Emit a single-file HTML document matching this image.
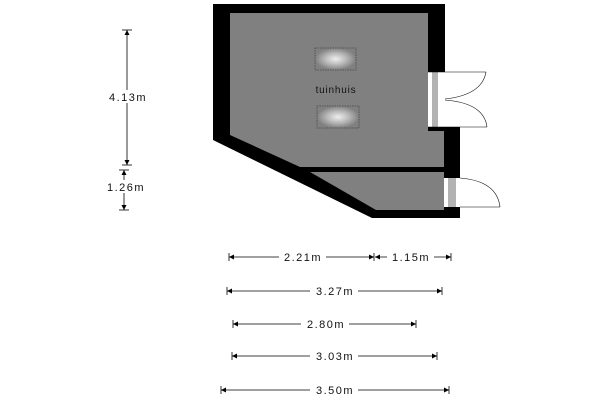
<!DOCTYPE html>
<html><head><style>html,body{margin:0;padding:0;background:#fff}svg{display:block}</style></head><body>
<svg width="600" height="400" viewBox="0 0 600 400" xmlns="http://www.w3.org/2000/svg" font-family="Liberation Sans, sans-serif">
<defs>
<radialGradient id="g"><stop offset="0" stop-color="#eee"/><stop offset="0.5" stop-color="#bbb"/><stop offset="1" stop-color="#808080"/></radialGradient>
<marker id="a" viewBox="0 0 10 10" refX="10" refY="5" markerWidth="8" markerHeight="5" orient="auto-start-reverse" markerUnits="userSpaceOnUse"><path d="M0,0L10,5L0,10z" fill="#000"/></marker>
</defs>
<polygon points="213,4 445,4 445,127 460,127 460,218 372,218 213,140" fill="#000"/>
<polygon points="230,13 428,13 428,131 444,131 444,167 300,167 230,135" fill="#808080"/>
<polygon points="310,172 444,172 444,210 376,210" fill="#808080"/>
<rect x="428" y="72" width="17" height="55" fill="#fff"/>
<g stroke="#000" stroke-width="0.6" fill="none">
<line x1="433" y1="72" x2="433" y2="127"/><line x1="435" y1="72" x2="435" y2="127"/><line x1="437" y1="72" x2="437" y2="127"/>
<line x1="428" y1="72" x2="445" y2="72"/><line x1="428" y1="127" x2="445" y2="127"/>
<line x1="445" y1="72" x2="486" y2="72"/><path d="M486,72 Q482,95 445,99"/>
<line x1="445" y1="127" x2="487" y2="127"/><path d="M487,127 Q484,103 445,100"/>
</g>
<rect x="444" y="178" width="16" height="29" fill="#fff"/>
<g stroke="#000" stroke-width="0.6" fill="none">
<line x1="449" y1="178" x2="449" y2="207"/><line x1="451" y1="178" x2="451" y2="207"/><line x1="453" y1="178" x2="453" y2="207"/><line x1="455" y1="178" x2="455" y2="207"/>
<line x1="460" y1="207" x2="500" y2="207"/><path d="M500,207 Q497,181 460,178"/>
</g>
<rect x="315" y="48" width="41" height="22" fill="url(#g)" stroke="#444" stroke-width="0.7" stroke-dasharray="1.5,1"/>
<rect x="317" y="106" width="42" height="22" fill="url(#g)" stroke="#444" stroke-width="0.7" stroke-dasharray="1.5,1"/>
<text x="336" y="93" font-size="10" text-anchor="middle" fill="#111" letter-spacing="0.8">tuinhuis</text>
<g stroke="#000" stroke-width="0.8" marker-start="url(#a)" marker-end="url(#a)">
<line x1="127" y1="30" x2="127" y2="165"/>
<line x1="124" y1="170" x2="124" y2="210"/>
<line x1="229" y1="257" x2="374" y2="257"/>
<line x1="375" y1="257" x2="451" y2="257"/>
<line x1="227" y1="291" x2="442" y2="291"/>
<line x1="233" y1="324" x2="416" y2="324"/>
<line x1="232" y1="356" x2="437" y2="356"/>
<line x1="221" y1="390" x2="449" y2="390"/>
</g>
<g stroke="#000" stroke-width="0.8">
<line x1="122" y1="30" x2="132" y2="30"/><line x1="122" y1="165" x2="132" y2="165"/>
<line x1="119" y1="170" x2="129" y2="170"/><line x1="119" y1="210" x2="129" y2="210"/>
<line x1="229" y1="253" x2="229" y2="261"/><line x1="374" y1="253" x2="374" y2="261"/><line x1="451" y1="253" x2="451" y2="261"/>
<line x1="227" y1="287" x2="227" y2="295"/><line x1="442" y1="287" x2="442" y2="295"/>
<line x1="233" y1="320" x2="233" y2="328"/><line x1="416" y1="320" x2="416" y2="328"/>
<line x1="232" y1="352" x2="232" y2="360"/><line x1="437" y1="352" x2="437" y2="360"/>
<line x1="221" y1="386" x2="221" y2="394"/><line x1="449" y1="386" x2="449" y2="394"/>
</g>
<g fill="#fff">
<rect x="104" y="90" width="46" height="13"/><rect x="102" y="180" width="46" height="13"/>
<rect x="279" y="250" width="47" height="13"/><rect x="387" y="250" width="47" height="13"/>
<rect x="310" y="284" width="48" height="13"/><rect x="301" y="317" width="48" height="13"/>
<rect x="310" y="349" width="48" height="13"/><rect x="310" y="383" width="48" height="13"/>
</g>
<g font-size="11" fill="#111" text-anchor="middle" letter-spacing="1.5">
<text x="128" y="101">4.13m</text><text x="126" y="191">1.26m</text>
<text x="303" y="261">2.21m</text><text x="411" y="261">1.15m</text>
<text x="335" y="295">3.27m</text><text x="326" y="328">2.80m</text>
<text x="335" y="360">3.03m</text><text x="335" y="394">3.50m</text>
</g>
</svg>
</body></html>
